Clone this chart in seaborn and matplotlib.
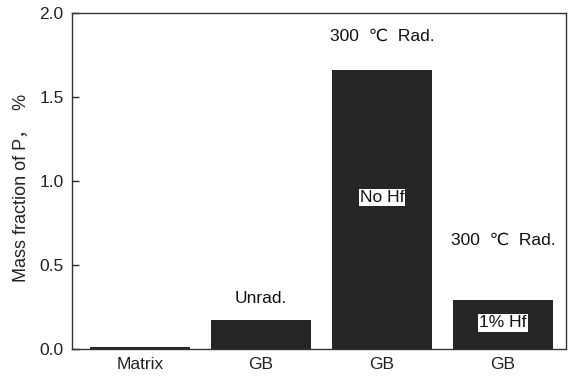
import matplotlib
matplotlib.use("Agg")
import matplotlib.pyplot as plt
import seaborn as sns
import pandas as pd

categories = ["Matrix", "GB", "GB", "GB"]
values = [0.01, 0.17, 1.66, 0.29]
top_labels = ["", "Unrad.", "300  \u2103  Rad.", "300  \u2103  Rad."]
inner_labels = ["", "", "No Hf", "1% Hf"]

sns.set_theme(style="ticks")
plt.rcParams["font.family"] = ["Liberation Sans", "DejaVu Sans", "Noto Sans CJK SC"]

df = pd.DataFrame({"pos": [str(i) for i in range(len(categories))], "val": values})

FS = 12.5
fig = plt.figure(figsize=(5.73, 3.83), dpi=100)
ax = fig.add_axes([72 / 573, 1 - 349 / 383, (566 - 72) / 573, (349 - 13) / 383])
sns.barplot(data=df, x="pos", y="val", color="#262626", saturation=1, width=0.83, ax=ax, edgecolor="none")

ax.set_xlim(-0.56, 3.52)
ax.set_ylim(0, 2.0)
ax.set_yticks([0.0, 0.5, 1.0, 1.5, 2.0])
ax.set_yticklabels(["0.0", "0.5", "1.0", "1.5", "2.0"], fontsize=FS, color="#222222")
ax.set_xticks(range(len(categories)))
ax.set_xticklabels(categories, fontsize=FS, color="#222222")
ax.tick_params(axis="y", direction="in", length=5, width=1, pad=6)
ax.tick_params(axis="x", length=0, pad=6)
ax.set_xlabel("")
ax.set_ylabel("Mass fraction of P\uff0c  %", fontsize=13, color="#222222",
              family=["Liberation Sans", "Noto Sans CJK SC"])
ax.yaxis.set_label_coords(-0.085, 0.48)
for s in ax.spines.values():
    s.set_visible(True)
    s.set_linewidth(1.0)
    s.set_color("#333333")

top_y = [None, 0.30, 1.86, 0.65]
for i, t in enumerate(top_labels):
    if t:
        ax.text(i, top_y[i], t, ha="center", va="center", fontsize=FS, color="#111111")

inner_y = [None, None, 0.90, 0.155]
for i, t in enumerate(inner_labels):
    if t:
        ax.text(i, inner_y[i], t, ha="center", va="center", fontsize=FS, color="#111111",
                bbox=dict(facecolor="white", edgecolor="none", pad=0.8))

fig.savefig("out.png", dpi=100)
